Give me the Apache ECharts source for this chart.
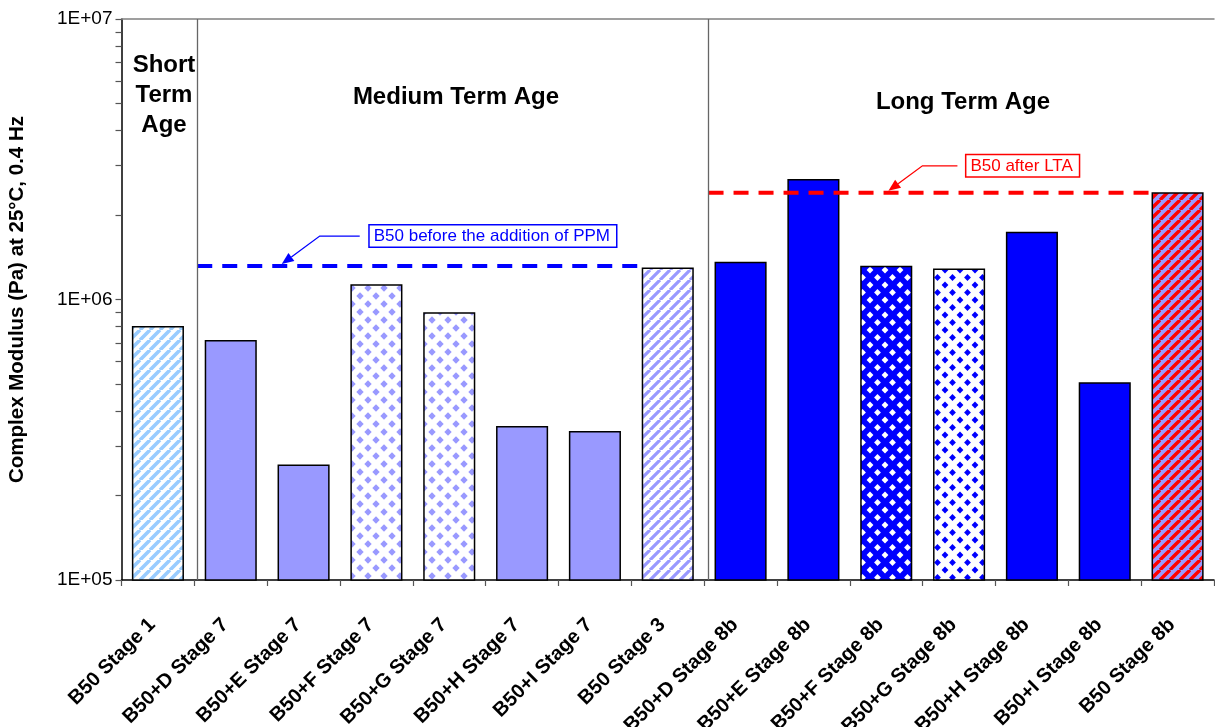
<!DOCTYPE html>
<html>
<head>
<meta charset="utf-8">
<script src="https://cdn.jsdelivr.net/npm/echarts@6/dist/echarts.min.js"></script>
<style>
html,body{margin:0;padding:0;background:#fff;overflow:hidden;}
#chart{width:1215px;height:727px;}
</style>
</head>
<body>
<div id="chart"></div>
<script>
// ---------------- DATA ----------------
const categories = ['B50 Stage 1','B50+D Stage 7','B50+E Stage 7','B50+F Stage 7','B50+G Stage 7','B50+H Stage 7','B50+I Stage 7','B50 Stage 3','B50+D Stage 8b','B50+E Stage 8b','B50+F Stage 8b','B50+G Stage 8b','B50+H Stage 8b','B50+I Stage 8b','B50 Stage 8b'];
const modulus = [8.04e5, 7.17e5, 2.58e5, 1.133e6, 9.0e5, 3.54e5, 3.40e5, 1.30e6, 1.364e6, 2.69e6, 1.32e6, 1.29e6, 1.744e6, 5.07e5, 2.41e6];
const yLabelTicks = [1e5, 1e6, 1e7];
const yMinorTicks = [1e5,2e5,3e5,4e5,5e5,6e5,7e5,8e5,9e5,1e6,2e6,3e6,4e6,5e6,6e6,7e6,8e6,9e6,1e7];
const refBeforePPM = 1.316e6;   // B50 Stage 3 level
const refAfterLTA = 2.40e6;     // B50 Stage 8b level
const ageGroups = ['Short\nTerm\nAge', 'Medium Term Age', 'Long Term Age'];
const calloutTexts = ['B50 before the addition of PPM', 'B50 after LTA'];
const yTitle = 'Complex Modulus (Pa) at 25°C, 0.4 Hz';

// ---------------- STYLE ----------------
const FONT = "'Liberation Sans', Arial, Helvetica, sans-serif";
const LAV = '#9999ff', BLUE = '#0000ff', LBLUE = '#99ccff', RED = '#ff0000';

function stripeTile(bg, fg, size, lw) {
  const c = document.createElement('canvas'); c.width = c.height = size;
  const g = c.getContext('2d');
  g.fillStyle = bg; g.fillRect(0, 0, size, size);
  g.strokeStyle = fg; g.lineWidth = lw; g.beginPath();
  for (let k = -1; k <= 1; k++) { g.moveTo(k * size, size); g.lineTo(k * size + size, 0); }
  g.stroke();
  return c;
}
function diamondTile(bg, fg, size, r) {
  const c = document.createElement('canvas'); c.width = c.height = size;
  const g = c.getContext('2d');
  g.fillStyle = bg; g.fillRect(0, 0, size, size);
  g.fillStyle = fg;
  const h = size / 2;
  [[0,0],[size,0],[0,size],[size,size],[h,h]].forEach(([cx, cy]) => {
    g.beginPath(); g.moveTo(cx, cy - r); g.lineTo(cx + r, cy); g.lineTo(cx, cy + r); g.lineTo(cx - r, cy); g.closePath(); g.fill();
  });
  return c;
}
const pat = (canvas) => ({ image: canvas, repeat: 'repeat' });
const fills = {
  ltStripe: pat(stripeTile('#ffffff', LBLUE, 10, 3.6)),
  lav: LAV,
  lavDiamond: pat(diamondTile('#ffffff', LAV, 16, 3.7)),
  lavStripe: pat(stripeTile('#ffffff', LAV, 10, 3.2)),
  blue: BLUE,
  blueDiamondDense: pat(diamondTile(BLUE, '#ffffff', 15, 3.4)),
  blueDiamond: pat(diamondTile('#ffffff', BLUE, 15, 3.4)),
  redStripe: pat(stripeTile(LAV, RED, 10, 3.4))
};
const fillKeys = ['ltStripe','lav','lav','lavDiamond','lavDiamond','lav','lav','lavStripe','blue','blue','blueDiamondDense','blueDiamond','blue','blue','redStripe'];

const chart = echarts.init(document.getElementById('chart'), null, { renderer: 'canvas' });

const option = {
  animation: false,
  backgroundColor: '#ffffff',
  grid: { left: 121.5, right: 1, top: 19, bottom: 147, containLabel: false, outerBoundsMode: 'none' },
  xAxis: [
    {
      type: 'category', data: categories, position: 'bottom',
      axisLine: { show: true, lineStyle: { color: '#000', width: 1.5 } },
      axisTick: { show: true, interval: 0, length: 6, lineStyle: { color: '#555', width: 1.2 } },
      axisLabel: { interval: 0, rotate: 45, margin: 36, padding: [0, 8, 0, 0], color: '#000', fontFamily: FONT, fontWeight: 'bold', fontSize: 20 },
      splitLine: { show: false }
    },
    {
      type: 'value', position: 'top', min: -0.5, max: 14.5,
      axisLine: { show: true, onZero: false, lineStyle: { color: '#808080', width: 1.5 } },
      axisTick: { show: false }, axisLabel: { show: false }, splitLine: { show: false }
    }
  ],
  yAxis: {
    type: 'log', logBase: 10, min: 1e5, max: 1e7,
    name: yTitle, nameLocation: 'middle', nameGap: 94,
    nameTextStyle: { fontFamily: FONT, fontWeight: 'bold', fontSize: 20.5, color: '#000' },
    axisLine: { show: true, onZero: false, lineStyle: { color: '#000', width: 1.5 } },
    axisTick: { show: true, length: 6, customValues: yMinorTicks, lineStyle: { color: '#555', width: 1.2 } },
    axisLabel: {
      customValues: yLabelTicks, margin: 9, color: '#000', fontFamily: FONT, fontSize: 19,
      formatter: v => '1E+' + String(Math.round(Math.log10(v))).padStart(2, '0')
    },
    splitLine: { show: false }, minorTick: { show: false }
  },
  series: [
    {
      type: 'bar', xAxisIndex: 0, yAxisIndex: 0, barCategoryGap: '28.5%',
      data: modulus.map((v, i) => ({ value: v, itemStyle: { color: fills[fillKeys[i]] } })),
      itemStyle: { borderColor: '#000', borderWidth: 1.5 },
      z: 2
    },
    {
      type: 'line', xAxisIndex: 1, yAxisIndex: 0, symbol: 'none', silent: true, z: 3,
      lineStyle: { color: BLUE, width: 4, type: [15, 10] },
      data: [[0.54, refBeforePPM], [6.64, refBeforePPM]],
      markLine: {
        silent: true, symbol: 'none', label: { show: false },
        lineStyle: { color: '#666', width: 1.3, type: 'solid' },
        data: [{ xAxis: 0.54 }, { xAxis: 7.56 }]
      }
    },
    {
      type: 'line', xAxisIndex: 1, yAxisIndex: 0, symbol: 'none', silent: true, z: 3,
      lineStyle: { color: RED, width: 4, type: [15, 10] },
      data: [[7.56, refAfterLTA], [13.64, refAfterLTA]]
    }
  ]
};
chart.setOption(option);

// ---------------- ANNOTATIONS ----------------
const toPx = (x, y) => chart.convertToPixel({ xAxisIndex: 1, yAxisIndex: 0 }, [x, y]);
function callout(tipX, level, dxC, dyC, lenH, gap, text, color) {
  const tip = toPx(tipX, level);
  tip[1] -= 2;
  const corner = [tip[0] + dxC, tip[1] + dyC];
  const lineEnd = [corner[0] + lenH, corner[1]];
  const ux = tip[0] - corner[0], uy = tip[1] - corner[1];
  const L = Math.hypot(ux, uy), nx = ux / L, ny = uy / L;
  const base = [tip[0] - nx * 12, tip[1] - ny * 12];
  const px = -ny * 5, py = nx * 5;
  return [
    { type: 'polyline', silent: true, z: 10, shape: { points: [lineEnd, corner, base] }, style: { stroke: color, lineWidth: 1.3, fill: null } },
    { type: 'polygon', silent: true, z: 10, shape: { points: [tip, [base[0] + px, base[1] + py], [base[0] - px, base[1] - py]] }, style: { fill: color } },
    { type: 'text', silent: true, z: 10, x: lineEnd[0] + gap, y: corner[1],
      style: { text: text, fill: color, font: '17px ' + FONT, align: 'left', verticalAlign: 'middle',
               backgroundColor: '#fff', borderColor: color, borderWidth: 1.5, padding: [2, 6, 2, 4] } }
  ];
}
const titleStyle = (t) => ({ text: t, fill: '#000', font: 'bold 24px ' + FONT, align: 'center', verticalAlign: 'middle', lineHeight: 30 });
chart.setOption({
  graphic: [
    { type: 'text', silent: true, x: 164, y: 95, style: titleStyle(ageGroups[0]) },
    { type: 'text', silent: true, x: 456, y: 97, style: titleStyle(ageGroups[1]) },
    { type: 'text', silent: true, x: 963, y: 102, style: titleStyle(ageGroups[2]) }
  ].concat(
    callout(1.70, refBeforePPM, 38, -28, 40, 10, calloutTexts[0], BLUE),
    callout(10.03, refAfterLTA, 34, -25, 35, 9, calloutTexts[1], RED)
  )
});
</script>
</body>
</html>
